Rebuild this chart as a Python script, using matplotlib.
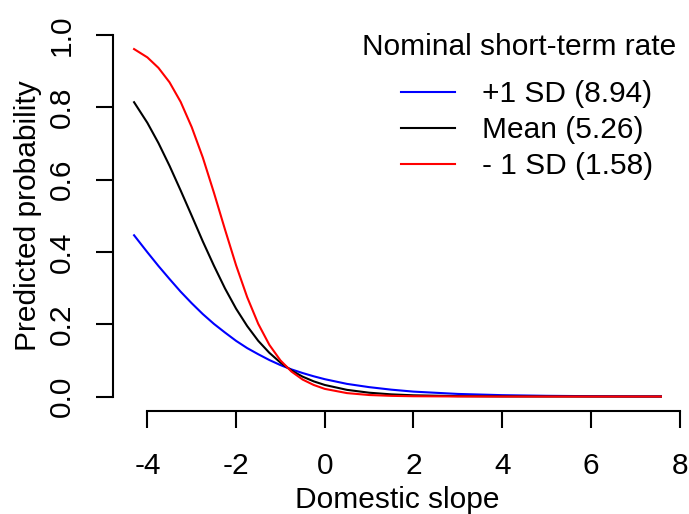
import matplotlib
matplotlib.use("Agg")
import matplotlib.pyplot as plt

plt.rcParams['font.family'] = ['Liberation Sans', 'DejaVu Sans']

# Domestic slope values (x) and predicted probabilities
slope = [-4.3, -4.0, -3.75, -3.5, -3.25, -3.0, -2.75, -2.5, -2.25, -2.0, -1.75,
         -1.5, -1.25, -1.0, -0.75, -0.5, -0.25, 0.0, 0.5, 1.0, 1.5, 2.0, 3.0,
         4.0, 5.0, 6.0, 7.0, 7.58]
prob_plus1sd = [0.446, 0.399, 0.361, 0.325, 0.290, 0.258, 0.228, 0.201, 0.177,
                0.154, 0.134, 0.117, 0.101, 0.087, 0.075, 0.065, 0.056, 0.048,
                0.035, 0.026, 0.019, 0.0136, 0.0072, 0.0038, 0.0020, 0.0010,
                0.0005, 0.0004]
prob_mean = [0.814, 0.757, 0.701, 0.638, 0.570, 0.500, 0.429, 0.362, 0.299,
             0.243, 0.195, 0.154, 0.121, 0.094, 0.072, 0.055, 0.042, 0.032,
             0.0185, 0.0106, 0.006, 0.0034, 0.0011, 0.0004, 0.0001, 0.0,
             0.0, 0.0]
prob_minus1sd = [0.961, 0.938, 0.909, 0.869, 0.815, 0.745, 0.661, 0.564, 0.462,
                 0.363, 0.275, 0.201, 0.143, 0.100, 0.069, 0.047, 0.032, 0.0212,
                 0.0095, 0.0042, 0.0019, 0.0008, 0.0002, 0.0, 0.0, 0.0,
                 0.0, 0.0]

series_labels = ["+1 SD (8.94)", "Mean (5.26)", "- 1 SD (1.58)"]
series_colors = ["blue", "black", "red"]
legend_title = "Nominal short-term rate"

x_ticks = [-4, -2, 0, 2, 4, 6, 8]
y_ticks = [0.0, 0.2, 0.4, 0.6, 0.8, 1.0]

W, H = 689, 514
fig = plt.figure(figsize=(W / 100, H / 100), dpi=100)
left, right, top, bottom = 113, 682, 20.5, 411
ax = fig.add_axes([left / W, 1 - bottom / H, (right - left) / W, (bottom - top) / H])

for vals, lab, col in zip([prob_plus1sd, prob_mean, prob_minus1sd], series_labels, series_colors):
    ax.plot(slope, vals, color=col, lw=1.5, label=lab, solid_joinstyle='round')

xr = max(slope) - min(slope)
ax.set_xlim(min(slope) - 0.04 * xr, max(slope) + 0.04 * xr)
ax.set_ylim(-0.04, 1.04)

fs = 21.5
ax.set_xticks(x_ticks)
ax.set_xticklabels([str(t) for t in x_ticks])
ax.set_yticks(y_ticks)
ax.set_yticklabels([f"{t:.1f}" for t in y_ticks], rotation=90, va='center')
ax.tick_params(axis='both', direction='out', length=12.5, width=1.5, labelsize=fs)
ax.tick_params(axis='x', pad=17)
ax.tick_params(axis='y', pad=14)

for s in ['top', 'right']:
    ax.spines[s].set_visible(False)
ax.spines['bottom'].set_bounds(min(x_ticks), max(x_ticks))
ax.spines['left'].set_bounds(min(y_ticks), max(y_ticks))
ax.spines['bottom'].set_linewidth(1.5)
ax.spines['left'].set_linewidth(1.5)

ax.set_xlabel("Domestic slope", fontsize=fs, va='center')
ax.xaxis.set_label_coords((397.5 - left) / (right - left), (bottom - 500) / (bottom - top))
ax.set_ylabel("Predicted probability", fontsize=fs, va='center')
ax.yaxis.set_label_coords((28 - left) / (right - left), 0.5)

leg = ax.legend(frameon=False, fontsize=fs,
                handlelength=1.8, handletextpad=0.9, labelspacing=0.27,
                loc='upper left', bbox_to_anchor=(401 / W, 1 - 80 / H),
                bbox_transform=fig.transFigure, borderpad=0, borderaxespad=0)
fig.text(519 / W, 1 - 47 / H, legend_title, fontsize=fs, ha='center', va='center')

fig.savefig("out.png", dpi=100)
